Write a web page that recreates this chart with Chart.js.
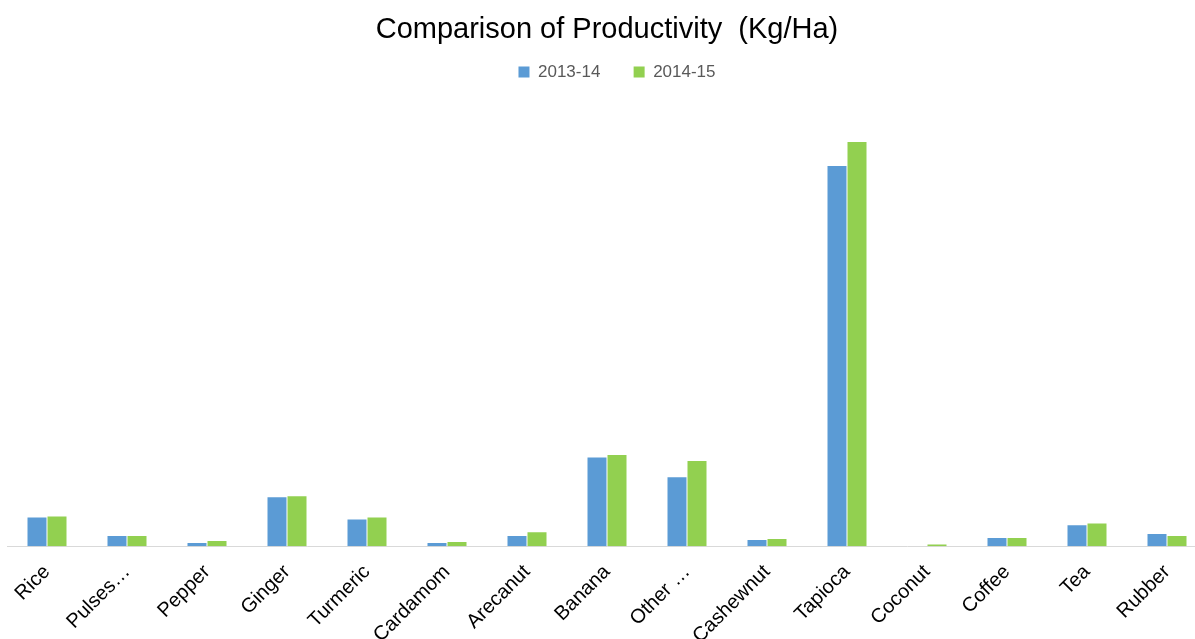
<!DOCTYPE html>
<html>
<head>
<meta charset="utf-8">
<script src="https://cdn.jsdelivr.net/npm/chart.js@4/dist/chart.umd.min.js"></script>
<style>
  html, body { margin: 0; padding: 0; background: #ffffff; overflow: hidden; }
  #wrap { position: relative; width: 1214px; height: 654px; }
</style>
</head>
<body>
<div id="wrap"><canvas id="chart"></canvas></div>
<script>
// Crops and productivity (Kg/Ha) for two seasons
const crops = ["Rice", "Pulses…", "Pepper", "Ginger", "Turmeric", "Cardamom", "Arecanut",
               "Banana", "Other …", "Cashewnut", "Tapioca", "Coconut", "Coffee", "Tea", "Rubber"];
const yield2013_14 = [2870, 1030, 330, 4900, 2670, 330, 1030, 8870, 6900, 630, 38000, 0, 830, 2100, 1230];
const yield2014_15 = [2970, 1030, 530, 5000, 2870, 430, 1400, 9130, 8530, 730, 40400, 170, 830, 2270, 1030];
const seriesLabels = ["2013-14", "2014-15"];

// Nudges the legend row sideways
const legendShift = {
  id: "legendShift",
  afterLayout(chart) {
    if (chart.legend) { chart.legend.left += 10; chart.legend.right += 10; }
  }
};

new Chart(document.getElementById("chart"), {
  type: "bar",
  data: {
    labels: crops,
    datasets: [
      { label: seriesLabels[0], data: yield2013_14, backgroundColor: "#5b9bd5" },
      { label: seriesLabels[1], data: yield2014_15, backgroundColor: "#92d050" }
    ]
  },
  plugins: [legendShift],
  options: {
    responsive: true,
    maintainAspectRatio: false,
    animation: false,
    layout: { padding: { left: 7, right: 7, top: 0, bottom: 0 } },
    datasets: { bar: { categoryPercentage: 0.5, barPercentage: 0.95 } },
    plugins: {
      title: {
        display: true,
        text: "Comparison of Productivity  (Kg/Ha)",
        color: "#000000",
        font: { family: "Liberation Sans", size: 29, weight: "normal" },
        padding: { top: 12.6, bottom: 4 }
      },
      legend: {
        display: true,
        labels: {
          color: "#595959",
          font: { family: "Liberation Sans", size: 17 },
          boxWidth: 11,
          boxHeight: 11,
          padding: 12,
          // wider gap after each entry except the last
          generateLabels(chart) {
            const items = Chart.defaults.plugins.legend.labels.generateLabels(chart);
            items.forEach((it, i) => { if (i < items.length - 1) it.text = it.text + "\u2003\u2005"; });
            return items;
          }
        }
      },
      tooltip: { enabled: false }
    },
    scales: {
      x: {
        grid: { display: false },
        border: { display: true, color: "#d9d9d9", width: 1 },
        ticks: {
          color: "#000000",
          font: { family: "Liberation Sans", size: 20 },
          padding: 6,
          maxRotation: 45,
          minRotation: 45,
          autoSkip: false
        }
      },
      y: {
        display: false,
        min: 0,
        max: 45550
      }
    }
  }
});
</script>
</body>
</html>
